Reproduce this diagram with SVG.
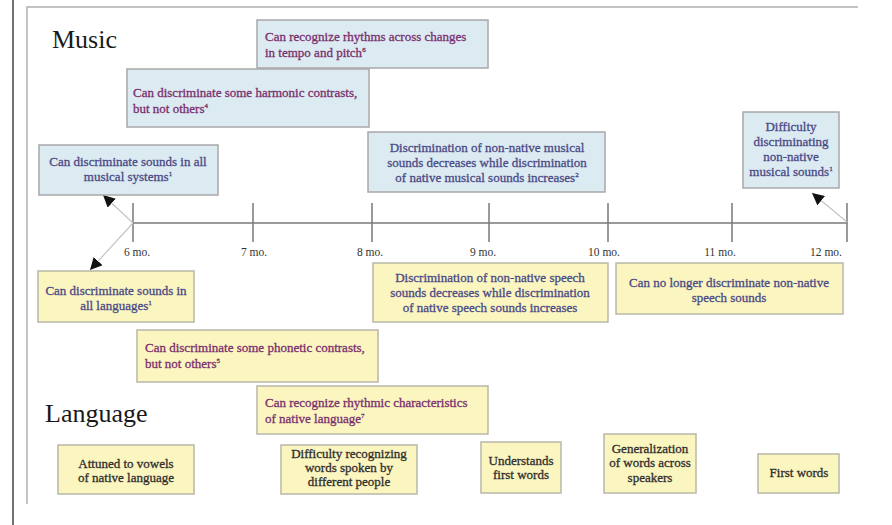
<svg xmlns="http://www.w3.org/2000/svg" width="892" height="525" viewBox="0 0 892 525">
<defs>
<style>
.mb{fill:#dceaf2;stroke:#a8a8a8;stroke-width:1.5}
.lb{fill:#fbf5c0;stroke:#b8b8a8;stroke-width:1.5}
text{font-family:"Liberation Serif","Times New Roman",serif}
.t{font-size:13px;stroke-width:0.3}
.blue{fill:#4a4a86;stroke:#4a4a86}
.pur{fill:#7a2f6e;stroke:#7a2f6e}
.dark{fill:#2e2e2e;stroke:#2e2e2e}
.title{font-size:26px;fill:#1a1a1a}
.mo{font-size:11.5px;fill:#333;text-anchor:middle}
.c{text-anchor:middle}
.axis{stroke:#7a7a7a;stroke-width:1.5;fill:none}
.conn{stroke:#c4c4c4;stroke-width:1.2;fill:none}
</style>
<marker id="ah" viewBox="0 0 10 10" refX="10" refY="5" markerWidth="12" markerHeight="12" markerUnits="userSpaceOnUse" orient="auto">
<path d="M0,0 L10,5 L0,10 z" fill="#111"/>
</marker>
</defs>
<rect width="892" height="525" fill="#fff"/>
<line x1="13" y1="0" x2="13" y2="525" stroke="#111" stroke-width="1.2"/>
<path d="M27,504 L27,7 L858,7" stroke="#b0b0b0" stroke-width="1.5" fill="none"/>

<text class="title" x="52" y="48">Music</text>
<text class="title" x="45" y="422">Language</text>

<g id="timeline">
<path class="axis" d="M133,223 H847 M133,203 V242 M253,203 V242 M372,203 V242 M489,203 V242 M608,203 V242 M732,203 V242 M847,203 V242"/>
<text class="mo" x="137" y="256">6 mo.</text>
<text class="mo" x="254" y="256">7 mo.</text>
<text class="mo" x="370" y="256">8 mo.</text>
<text class="mo" x="483" y="256">9 mo.</text>
<text class="mo" x="604" y="256">10 mo.</text>
<text class="mo" x="720" y="256">11 mo.</text>
<text class="mo" x="826" y="256">12 mo.</text>
</g>

<g id="connectors">
<line class="conn" x1="133" y1="223" x2="103" y2="195" marker-end="url(#ah)"/>
<line class="conn" x1="133" y1="223" x2="90" y2="270" marker-end="url(#ah)"/>
<line class="conn" x1="847" y1="222" x2="812" y2="193" marker-end="url(#ah)"/>
</g>

<g id="m-rhythm">
<rect class="mb" x="257" y="20" width="231" height="48"/>
<text class="t pur" x="265" y="41">Can recognize rhythms across changes</text>
<text class="t pur" x="265" y="57">in tempo and pitch<tspan font-size="7" dy="-5">6</tspan></text>
</g>
<g id="m-harmonic">
<rect class="mb" x="127" y="69" width="242" height="58"/>
<text class="t pur" x="133" y="97">Can discriminate some harmonic contrasts,</text>
<text class="t pur" x="133" y="113">but not others<tspan font-size="7" dy="-5">4</tspan></text>
</g>
<g id="m-all">
<rect class="mb" x="39" y="145" width="179" height="50"/>
<text class="t blue c" x="128" y="166">Can discriminate sounds in all</text>
<text class="t blue c" x="128" y="181">musical systems<tspan font-size="7" dy="-5">1</tspan></text>
</g>
<g id="m-decrease">
<rect class="mb" x="368" y="132" width="237" height="60"/>
<text class="t blue c" x="487" y="152">Discrimination of non-native musical</text>
<text class="t blue c" x="487" y="167">sounds decreases while discrimination</text>
<text class="t blue c" x="487" y="182">of native musical sounds increases<tspan font-size="7" dy="-5">2</tspan></text>
</g>
<g id="m-difficulty">
<rect class="mb" x="743" y="112" width="96" height="76"/>
<text class="t blue c" x="791" y="131">Difficulty</text>
<text class="t blue c" x="791" y="146">discriminating</text>
<text class="t blue c" x="791" y="161">non-native</text>
<text class="t blue c" x="791" y="176">musical sounds<tspan font-size="7" dy="-5">1</tspan></text>
</g>

<g id="l-all">
<rect class="lb" x="38" y="271" width="156" height="51"/>
<text class="t blue c" x="116" y="295">Can discriminate sounds in</text>
<text class="t blue c" x="116" y="310">all languages<tspan font-size="7" dy="-5">1</tspan></text>
</g>
<g id="l-phonetic">
<rect class="lb" x="137" y="330" width="241" height="52"/>
<text class="t pur" x="145" y="352">Can discriminate some phonetic contrasts,</text>
<text class="t pur" x="145" y="368">but not others<tspan font-size="7" dy="-5">5</tspan></text>
</g>
<g id="l-decrease">
<rect class="lb" x="373" y="263" width="235" height="59"/>
<text class="t blue c" x="490" y="282">Discrimination of non-native speech</text>
<text class="t blue c" x="490" y="297">sounds decreases while discrimination</text>
<text class="t blue c" x="490" y="312">of native speech sounds increases</text>
</g>
<g id="l-nolonger">
<rect class="lb" x="616" y="263" width="227" height="51"/>
<text class="t blue c" x="729" y="287">Can no longer discriminate non-native</text>
<text class="t blue c" x="729" y="302">speech sounds</text>
</g>
<g id="l-rhythm">
<rect class="lb" x="257" y="386" width="231" height="48"/>
<text class="t pur" x="265" y="407">Can recognize rhythmic characteristics</text>
<text class="t pur" x="265" y="423">of native language<tspan font-size="7" dy="-5">7</tspan></text>
</g>
<g id="l-vowels">
<rect class="lb" x="58" y="445" width="136" height="49"/>
<text class="t dark c" x="126" y="468">Attuned to vowels</text>
<text class="t dark c" x="126" y="482">of native language</text>
</g>
<g id="l-difficulty">
<rect class="lb" x="281" y="445" width="136" height="49"/>
<text class="t dark c" x="349" y="458" font-size="12.5">Difficulty recognizing</text>
<text class="t dark c" x="349" y="472" font-size="12.5">words spoken by</text>
<text class="t dark c" x="349" y="486" font-size="12.5">different people</text>
</g>
<g id="l-understands">
<rect class="lb" x="481" y="442" width="80" height="51"/>
<text class="t dark c" x="521" y="465">Understands</text>
<text class="t dark c" x="521" y="479">first words</text>
</g>
<g id="l-generalization">
<rect class="lb" x="604" y="434" width="92" height="59"/>
<text class="t dark c" x="650" y="453">Generalization</text>
<text class="t dark c" x="650" y="467">of words across</text>
<text class="t dark c" x="650" y="482">speakers</text>
</g>
<g id="l-first">
<rect class="lb" x="758" y="454" width="81" height="39"/>
<text class="t dark c" x="799" y="477">First words</text>
</g>
</svg>
